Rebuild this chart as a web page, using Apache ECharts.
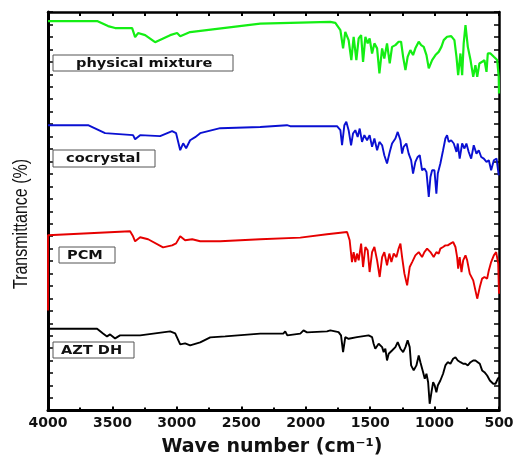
<!DOCTYPE html>
<html>
<head>
<meta charset="utf-8">
<script src="https://cdn.jsdelivr.net/npm/echarts@6/dist/echarts.min.js"></script>
<style>html,body{margin:0;padding:0;background:#fff}#c{width:517px;height:457px}</style>
</head>
<body>
<div id="c"></div>
<script>
// Wavenumbers (cm-1) and stacked transmittance (arbitrary offset units)
const greenWn = [4000,3619,3534,3479,3347,3324,3301,3246,3169,3052,2998,2974,2897,2353,1809,1770,1731,1710,1693,1667,1646,1628,1607,1589,1570,1555,1537,1519,1504,1485,1467,1446,1428,1407,1390,1369,1348,1330,1304,1279,1260,1244,1226,1209,1188,1167,1149,1123,1104,1084,1063,1045,1019,993,968,947,929,903,871,846,830,817,799,786,774,760,742,721,700,683,669,652,631,613,597,587,566,540,514,502,500];
const greenT = [31.27,31.27,30.87,30.71,30.71,29.98,30.31,30.14,29.58,30.14,30.31,30.06,30.39,31.07,31.21,31.13,30.55,29.08,30.41,29.74,28.14,30.01,28.14,29.88,30.14,28.0,30.01,29.48,29.88,28.67,29.48,29.08,27.07,29.08,28.27,29.48,27.87,29.2,29.34,29.61,29.61,28.4,27.33,28.4,28.94,28.54,29.08,29.61,29.34,29.2,28.54,27.47,28.14,28.54,28.8,29.2,29.74,30.01,30.06,29.74,28.4,26.93,28.67,26.93,29.48,30.95,29.2,28.14,26.79,27.73,26.79,27.87,28.0,28.14,27.19,28.67,28.67,28.4,28.14,26.79,25.46];

const blueWn = [4000,3689,3557,3340,3324,3285,3130,3037,3006,2974,2951,2928,2897,2858,2819,2664,2353,2146,2120,1786,1757,1731,1718,1700,1685,1667,1648,1633,1615,1597,1581,1563,1545,1524,1504,1485,1467,1446,1428,1407,1390,1369,1348,1330,1304,1286,1265,1252,1240,1219,1201,1182,1167,1149,1131,1115,1097,1079,1063,1045,1032,1019,1001,986,975,955,934,916,903,890,871,851,830,820,805,786,768,753,735,716,696,675,657,638,618,597,579,561,540,519,502];
const blueT = [22.91,22.91,22.27,22.11,21.78,22.11,22.03,22.43,22.27,20.9,21.46,21.06,21.7,21.95,22.27,22.67,22.77,22.91,22.83,22.83,22.83,22.51,21.3,22.91,23.18,22.51,21.3,22.24,22.51,21.97,22.64,21.57,22.11,21.7,22.11,21.17,21.84,20.9,21.57,21.3,20.5,19.83,20.76,21.44,21.84,22.37,21.7,20.63,21.17,21.44,20.63,20.1,19.03,19.96,20.36,20.5,19.29,19.43,19.16,17.15,18.75,19.29,19.29,17.42,19.03,19.83,20.9,21.84,22.11,21.57,21.7,21.44,20.76,21.44,20.23,21.44,21.04,21.44,20.76,20.23,21.3,20.63,20.9,20.36,20.23,19.96,20.1,19.29,20.1,20.23,18.89];

const redWn = [4000,4000,3363,3340,3324,3285,3223,3107,3037,3006,2974,2936,2881,2819,2664,2353,2042,1835,1679,1659,1641,1628,1615,1602,1589,1570,1555,1537,1519,1504,1485,1467,1446,1426,1407,1390,1369,1351,1335,1317,1296,1279,1265,1252,1234,1213,1193,1174,1149,1123,1097,1079,1058,1032,1007,986,968,955,934,916,898,877,856,838,825,817,805,791,778,760,747,727,700,690,669,649,631,613,592,579,561,540,522,506,500];
const redT = [8.04,14.07,14.39,13.99,13.59,13.91,13.75,13.1,13.26,13.42,13.99,13.67,13.75,13.59,13.59,13.75,13.88,14.15,14.33,13.67,11.92,12.72,11.92,12.6,12.06,13.4,11.52,13.13,12.86,11.12,12.72,13.13,12.06,10.72,12.32,12.72,11.66,12.6,11.92,12.6,12.32,13.0,13.4,12.32,10.99,10.05,11.52,11.92,12.46,12.72,12.32,12.72,13.0,12.72,12.32,12.72,12.6,13.0,13.13,13.26,13.26,13.4,13.53,13.13,12.32,11.39,12.32,11.12,12.06,12.46,12.06,10.99,10.45,10.59,8.98,9.91,10.59,10.72,10.59,11.25,11.92,12.46,12.72,11.79,9.38];

const blackWn = [4000,3619,3573,3542,3518,3479,3441,3285,3052,3013,2974,2936,2897,2819,2741,2625,2353,2174,2159,2143,2042,2017,1990,1835,1809,1745,1726,1710,1693,1667,1602,1512,1485,1473,1460,1434,1407,1395,1382,1369,1356,1330,1304,1286,1265,1244,1226,1209,1193,1182,1162,1141,1123,1110,1089,1076,1063,1050,1038,1024,1011,999,986,975,955,934,916,898,877,856,838,820,799,778,760,742,721,700,683,665,649,631,613,592,571,545,527,509,500];
const blackT = [6.57,6.57,6.19,5.95,6.11,5.79,6.03,6.03,6.35,6.19,5.31,5.39,5.23,5.47,5.87,5.95,6.17,6.17,6.35,6.03,6.17,6.43,6.27,6.35,6.43,6.29,6.03,4.69,5.89,5.76,5.89,6.03,5.89,5.36,4.96,5.36,5.09,4.69,4.96,4.02,4.56,4.82,5.09,5.49,4.96,4.69,5.09,5.63,5.09,3.62,3.22,3.62,4.42,3.88,3.08,2.55,2.95,2.27,0.54,1.47,2.27,2.01,1.47,2.01,2.41,2.95,3.62,3.88,3.75,4.16,4.28,4.02,3.88,3.75,3.75,3.62,3.88,4.02,4.02,3.88,3.75,3.22,3.08,2.81,2.41,2.15,2.15,2.55,2.68];

const seriesNames = ['physical mixture', 'cocrystal', 'PCM', 'AZT DH'];
const seriesColors = ['#14ee14', '#0a10d2', '#e60000', '#000000'];
const xTitle = 'Wave number (cm\u207B\u00B9)';
const yTitle = 'Transmittance (%)';

const zip = (a, b) => a.map((w, i) => [w, b[i]]);
const traces = [zip(greenWn, greenT), zip(blueWn, blueT), zip(redWn, redT), zip(blackWn, blackT)];

const chart = echarts.init(document.getElementById('c'), null, {renderer: 'canvas'});

// label boxes: [rectX, rectY, rectW, rectH, textX]
const boxes = [
  [53, 55, 180, 16, 76],
  [53, 150, 102, 17, 66],
  [59, 247, 56, 16, 67],
  [53, 342, 81, 16, 61]
];
const graphic = [];
boxes.forEach((b, i) => {
  graphic.push({type: 'rect', shape: {x: b[0], y: b[1], width: b[2], height: b[3]},
    style: {fill: '#fff', stroke: '#555', lineWidth: 1}, z: 100});
  graphic.push({type: 'text', x: b[4], y: b[1] + b[3] / 2 + 0.5, scaleX: 1.12, z: 101,
    style: {text: seriesNames[i], x: 0, y: 0, fill: '#111', font: 'bold 13px "DejaVu Sans"',
      align: 'left', verticalAlign: 'middle'}});
});
graphic.push({type: 'text', x: 21, y: 224, rotation: Math.PI / 2, scaleY: 1.3, z: 100,
  style: {text: yTitle, x: 0, y: 0, fill: '#111', font: '16px "Liberation Sans"',
    align: 'center', verticalAlign: 'middle'}});
graphic.push({type: 'text', x: 272, y: 447, z: 100,
  style: {text: xTitle, x: 0, y: 0, fill: '#111', font: 'bold 19px "DejaVu Sans"',
    align: 'center', verticalAlign: 'middle'}});

const option = {
  animation: false,
  backgroundColor: '#fff',
  grid: {left: 48, right: 18, top: 12, bottom: 46.5, containLabel: false},
  xAxis: [{
    type: 'value', min: 500, max: 4000, interval: 500, inverse: true, position: 'bottom',
    axisLine: {show: true, onZero: false, lineStyle: {color: '#000', width: 3}},
    axisTick: {show: true, inside: true, length: 4, lineStyle: {color: '#000', width: 2}},
    minorTick: {show: true, splitNumber: 2, length: 3, lineStyle: {color: '#000', width: 2}},
    axisLabel: {show: true, margin: 6, color: '#111', fontFamily: 'DejaVu Sans', fontWeight: 'bold', fontSize: 14,
      showMinLabel: true, showMaxLabel: true, hideOverlap: false, formatter: v => String(v)},
    splitLine: {show: false}
  }, {
    type: 'value', min: 500, max: 4000, interval: 250, inverse: true, position: 'top',
    axisLine: {show: true, onZero: false, lineStyle: {color: '#000', width: 2.5}},
    axisTick: {show: true, inside: true, length: 4, lineStyle: {color: '#000', width: 2}},
    axisLabel: {show: false}, splitLine: {show: false}
  }],
  yAxis: [{
    type: 'value', min: 0, max: 32, interval: 1, position: 'left',
    axisLine: {show: true, onZero: false, lineStyle: {color: '#000', width: 3}},
    axisTick: {show: true, inside: true, length: 5, lineStyle: {color: '#000', width: 1.5}},
    axisLabel: {show: false}, splitLine: {show: false}
  }, {
    type: 'value', min: 0, max: 32, interval: 1, position: 'right',
    axisLine: {show: true, onZero: false, lineStyle: {color: '#000', width: 2.5}},
    axisTick: {show: true, inside: true, length: 5, lineStyle: {color: '#000', width: 1.5}},
    axisLabel: {show: false}, splitLine: {show: false}
  }],
  series: traces.map((d, i) => ({
    name: seriesNames[i], type: 'line', xAxisIndex: 0, yAxisIndex: 0, data: d,
    showSymbol: false, symbol: 'none', clip: false,
    lineStyle: {color: seriesColors[i], width: i === 0 ? 2.2 : 1.9},
    z: 3
  })),
  graphic: graphic
};
chart.setOption(option);
</script>
</body>
</html>
